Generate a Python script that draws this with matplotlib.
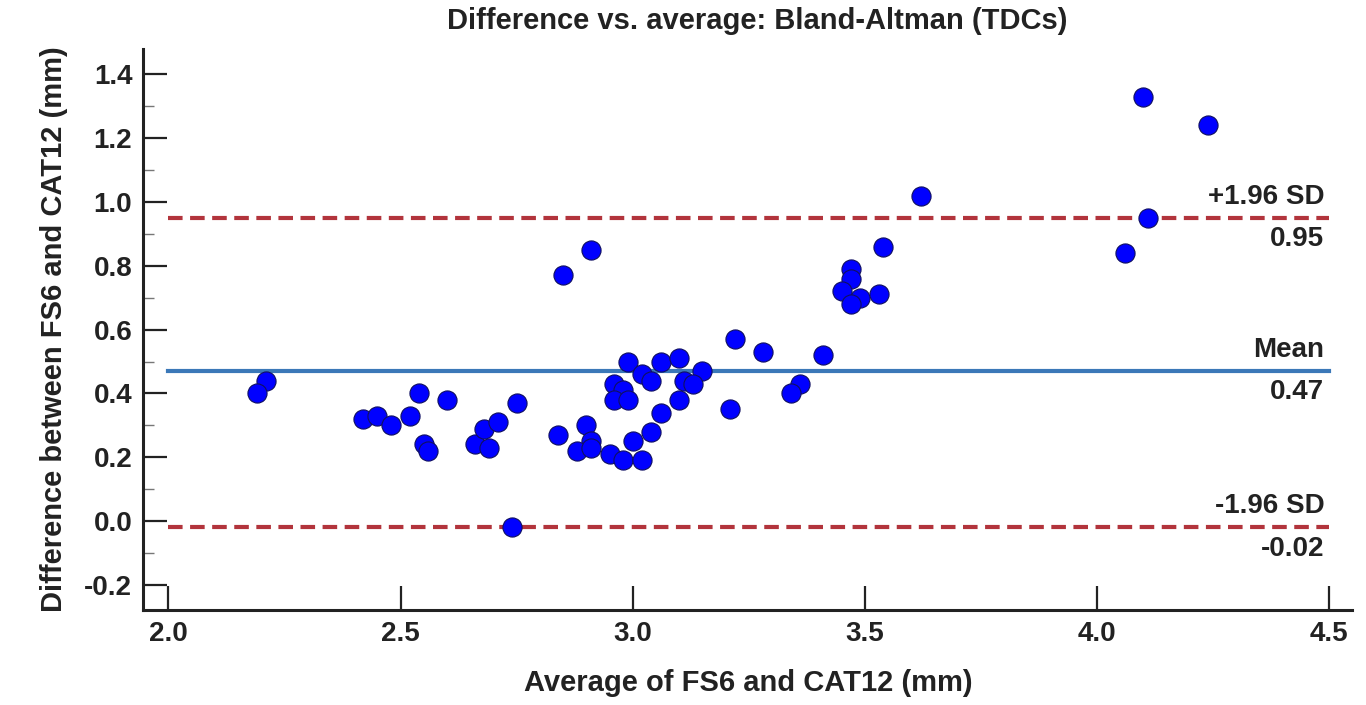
"""
Bland-Altman plot: FS6 vs CAT12 cortical thickness (TDCs).
"""

import numpy as np
import matplotlib.pyplot as plt
from matplotlib.ticker import MultipleLocator

plt.rcParams["font.family"] = ["Liberation Sans", "DejaVu Sans"]
plt.rcParams["font.weight"] = "bold"

# ---- Data ----
avg = [2.21, 2.19, 2.42, 2.45, 2.48, 2.54, 2.52, 2.55, 2.56, 2.60,
       2.66, 2.68, 2.69, 2.71, 2.75, 2.74, 2.91, 2.85, 2.99, 3.06,
       3.10, 3.15, 2.96, 2.98, 2.96, 2.99, 3.02, 3.04, 3.11, 3.13,
       3.10, 3.06, 3.04, 2.84, 2.90, 2.91, 2.88, 2.91, 2.95, 3.00,
       2.98, 3.02, 3.22, 3.28, 3.41, 3.36, 3.34, 3.21, 3.62, 3.54,
       3.47, 3.47, 3.45, 3.49, 3.53, 3.47, 4.10, 4.24, 4.11, 4.06]
diff = [0.44, 0.40, 0.32, 0.33, 0.30, 0.40, 0.33, 0.24, 0.22, 0.38,
        0.24, 0.29, 0.23, 0.31, 0.37, -0.02, 0.85, 0.77, 0.50, 0.50,
        0.51, 0.47, 0.43, 0.41, 0.38, 0.38, 0.46, 0.44, 0.44, 0.43,
        0.38, 0.34, 0.28, 0.27, 0.30, 0.25, 0.22, 0.23, 0.21, 0.25,
        0.19, 0.19, 0.57, 0.53, 0.52, 0.43, 0.40, 0.35, 1.02, 0.86,
        0.79, 0.76, 0.72, 0.70, 0.71, 0.68, 1.33, 1.24, 0.95, 0.84]

mean_diff = 0.47
upper_loa = 0.95
lower_loa = -0.02
x_span    = [2.0, 4.5]

fig = plt.figure(figsize=(13.66, 7.05), dpi=100)
ax = fig.add_axes([0.105, 0.135, 0.885, 0.795])

ax.scatter(avg, diff, s=190, c="#0000ff", edgecolors="#101060",
           linewidths=0.8, zorder=3)

ax.plot(x_span, [mean_diff] * 2, color="#3b78b8", lw=3, zorder=2)
for yv in (upper_loa, lower_loa):
    ax.plot(x_span, [yv] * 2, color="#b2343c", lw=3,
            dashes=(3.5, 1.8), zorder=2)

# line labels
for yv, top, bottom in [(upper_loa, "+1.96 SD", f"{upper_loa:.2f}"),
                        (mean_diff, "Mean", f"{mean_diff:.2f}"),
                        (lower_loa, "-1.96 SD", f"{lower_loa:.2f}")]:
    ax.annotate(top, xy=(4.49, yv), xytext=(0, 6), textcoords="offset points",
                ha="right", va="bottom", fontsize=20, fontweight="bold",
                color="#222222")
    ax.annotate(bottom, xy=(4.49, yv), xytext=(0, -6), textcoords="offset points",
                ha="right", va="top", fontsize=20, fontweight="bold",
                color="#222222")

ax.set_xlim(1.946, 4.55)
ax.set_ylim(-0.278, 1.478)
ax.yaxis.set_minor_locator(MultipleLocator(0.1))
ax.set_xticks(np.arange(2.0, 4.51, 0.5))
ax.set_yticks(np.arange(-0.2, 1.41, 0.2))
ax.xaxis.set_major_formatter(plt.FuncFormatter(lambda v, p: f"{v:.1f}"))
ax.yaxis.set_major_formatter(plt.FuncFormatter(lambda v, p: f"{v:.1f}"))

for s in ("top", "right"):
    ax.spines[s].set_visible(False)
for s in ("left", "bottom"):
    ax.spines[s].set_linewidth(2.2)
    ax.spines[s].set_color("#222222")

ax.tick_params(which="major", direction="in", length=17, width=1.6,
               labelsize=20, colors="#222222", pad=8)
ax.tick_params(axis="y", which="minor", direction="in", length=8, width=1.0,
               color="#777777")
for lbl in ax.get_xticklabels() + ax.get_yticklabels():
    lbl.set_fontweight("bold")

ax.set_xlabel("Average of FS6 and CAT12 (mm)", fontsize=21, fontweight="bold",
              color="#222222", labelpad=16)
ax.set_ylabel("Difference between FS6 and CAT12 (mm)", fontsize=21,
              fontweight="bold", color="#222222", labelpad=12)
fig.text(0.554, 0.97, "Difference vs. average: Bland-Altman (TDCs)",
         ha="center", va="center", fontsize=21, fontweight="bold",
         color="#222222")

fig.savefig("out.png", dpi=100)
